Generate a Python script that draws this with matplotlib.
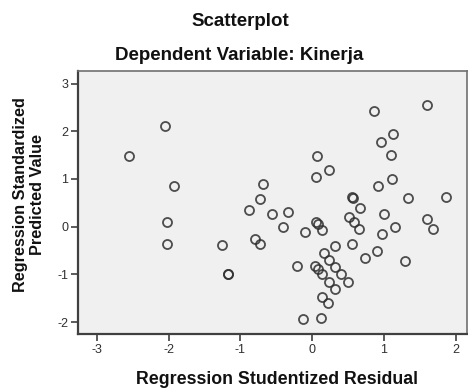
import matplotlib
matplotlib.use("Agg")
import matplotlib.pyplot as plt

residual = [-2.556, -2.05, -1.93, -2.02, -2.03, -1.25, -1.17, -1.17,
            -0.69, -0.73, -0.875, -0.79, -0.72, -0.556, -0.34, -0.41,
            -0.21, -0.093, -0.13,
            0.861, 1.60, 1.13, 0.96, 1.10, 0.07, 0.23, 0.05, 1.11, 0.92,
            1.34, 1.86, 0.556, 0.57, 0.67, 1.0, 1.60, 0.51,
            0.056, 0.08, 0.14, 0.59, 0.65, 1.68, 1.16, 0.98,
            0.32, 0.56, 0.16, 0.23, 0.90, 0.73, 1.29,
            0.046, 0.08, 0.14, 0.32, 0.40, 0.23, 0.32, 0.50, 0.14, 0.22, 0.125]
predicted = [1.48, 2.11, 0.86, 0.09, -0.36, -0.38, -0.985, -0.985,
             0.90, 0.57, 0.34, -0.25, -0.37, 0.26, 0.31, -0.01,
             -0.83, -0.11, -1.93,
             2.43, 2.56, 1.94, 1.78, 1.50, 1.48, 1.19, 1.05, 1.01, 0.86,
             0.61, 0.62, 0.62, 0.60, 0.39, 0.26, 0.16, 0.21,
             0.09, 0.06, -0.07, 0.09, -0.05, -0.05, -0.01, -0.16,
             -0.40, -0.36, -0.56, -0.69, -0.51, -0.65, -0.72,
             -0.83, -0.89, -1.0, -0.85, -0.99, -1.15, -1.30, -1.17, -1.47, -1.60, -1.91]

x_ticks = [-3, -2, -1, 0, 1, 2]
y_ticks = [-2, -1, 0, 1, 2, 3]

plt.rcParams['font.family'] = ['Liberation Sans', 'DejaVu Sans']

fig = plt.figure(figsize=(4.68, 3.89), dpi=100)
ax = fig.add_axes([78/468, 1-334/389, 1-78/468-0.003, (334-71)/389])
ax.set_facecolor('#F0F0F0')
ax.plot(residual, predicted, linestyle='none', marker='o', markersize=6.5,
        markerfacecolor='none', markeredgecolor='#303030', markeredgewidth=1.3, alpha=0.85)

ax.set_xlim(-3.264, 2.153)
ax.set_ylim(-2.25, 3.264)
ax.set_xticks(x_ticks)
ax.set_yticks(y_ticks)
ax.set_xticklabels([str(t) for t in x_ticks])
ax.set_yticklabels([str(t) for t in y_ticks])
ax.tick_params(axis='both', direction='out', length=5, width=1.2, color='#404040',
               labelsize=9, labelcolor='#303030', pad=2)
for side in ['left', 'bottom']:
    ax.spines[side].set_color('#404040')
    ax.spines[side].set_linewidth(1.6)
for side in ['top', 'right']:
    ax.spines[side].set_color('#707070')
    ax.spines[side].set_linewidth(1.2)

fig.text(240/468, 1-21/389, 'Scatterplot', ha='center', va='center',
         fontsize=13.5, fontweight='bold', color='#111111')
fig.text(239/468, 1-55/389, 'Dependent Variable: Kinerja', ha='center', va='center',
         fontsize=13.5, fontweight='bold', color='#111111')
fig.text(277/468, 1-379/389, 'Regression Studentized Residual', ha='center', va='center',
         fontsize=12.8, fontweight='bold', color='#111111')
fig.text(29/468, 1-195/389, 'Regression Standardized\nPredicted Value', ha='center', va='center',
         rotation=90, fontsize=11.7, fontweight='bold', color='#111111', linespacing=1.1)

fig.savefig('out.png', dpi=100)
